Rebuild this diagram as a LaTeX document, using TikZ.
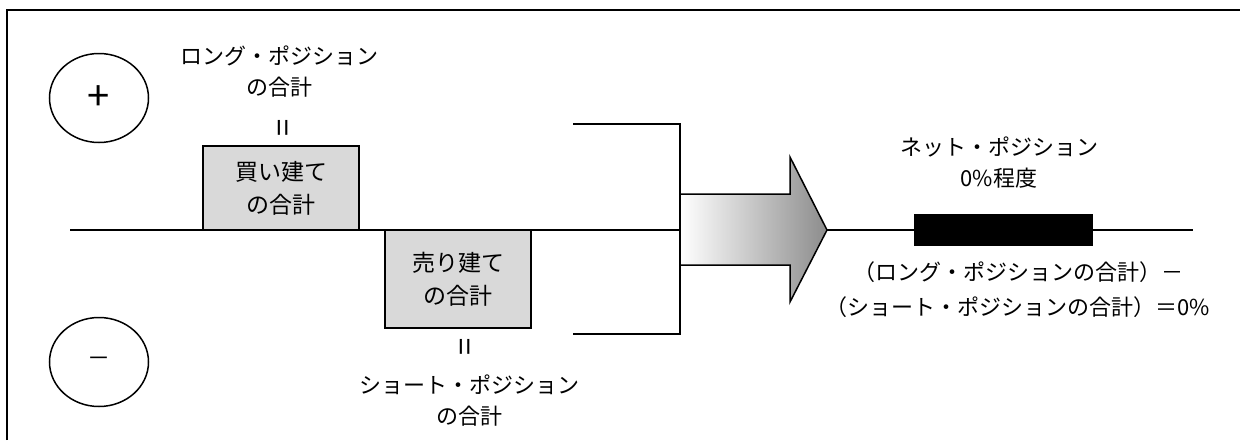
\documentclass[tikz,border=0pt]{standalone}
\usepackage{fontspec}
\setmainfont{Noto Sans CJK JP}
\usetikzlibrary{shapes.geometric}

\tikzset{
  signcircle/.style={draw, line width=1.5pt, ellipse, minimum width=99pt, minimum height=89pt, inner sep=0pt},
  sumbox/.style={draw, line width=1.5pt, fill=black!15, align=center, inner sep=0pt,
                 font=\fontsize{23}{33}\selectfont},
  lbl/.style={align=center, inner sep=0pt, font=\fontsize{22}{31}\selectfont},
  eqsign/.style={inner sep=0pt, rotate=90, font=\fontsize{31}{31}\selectfont},
  axis/.style={line width=1.5pt},
}

\begin{document}
\begin{tikzpicture}[x=1pt,y=-1pt]
\useasboundingbox (0,0) rectangle (1240,440);

%% frame
\draw[line width=2pt] (7,440) -- (7,10) -- (1240,10);

%% plus / minus
\node[signcircle, font=\fontsize{40}{40}\selectfont] (plus) at (99,98) {+};
\node[signcircle, font=\fontsize{23}{23}\selectfont] (minus) at (99,362) {－};

%% long side
\node[lbl] (longlbl) at (279,72) {ロング・ポジション\\の合計};
\node[eqsign] (longeq) at (286,128) {=};
\node[sumbox, minimum width=156pt, minimum height=84pt] (buybox) at (281,188) {買い建て\\の合計};

%% short side
\node[sumbox, minimum width=146pt, minimum height=98pt] (sellbox) at (458,279) {売り建て\\の合計};
\node[eqsign] (shorteq) at (468,347) {=};
\node[lbl] (shortlbl) at (469,401) {ショート・ポジション\\の合計};

%% axis and bracket
\coordinate (axL) at (70,230);
\coordinate (brk) at (680,230);
\coordinate (brkT) at (573,124);
\coordinate (brkB) at (573,334);
\draw[axis] (axL) -- (brk);
\draw[axis] (brkT) -- (brkT -| brk) -- (brkB -| brk) -- (brkB);

%% big arrow
\shade[left color=white, right color=black!45, draw, line width=1.5pt]
  (680,194) -- (790,194) -- (790,157) -- (827,230) -- (790,302) -- (790,265) -- (680,265) -- cycle;
\coordinate (tip) at (827,230);

%% net position
\coordinate (axR) at (1193,230);
\draw[axis] (tip) -- (axR);
\node[draw, fill=black, minimum width=178pt, minimum height=31pt, inner sep=0pt] (netbar) at (1003,229.5) {};
\node[lbl] (netlbl) at (999,163) {ネット・ポジション\\0\%程度};
\node[lbl, font=\fontsize{22}{35}\selectfont] (formula) at (1018,290)
  {（ロング・ポジションの合計）－\\（ショート・ポジションの合計）＝0\%};

\end{tikzpicture}
\end{document}
